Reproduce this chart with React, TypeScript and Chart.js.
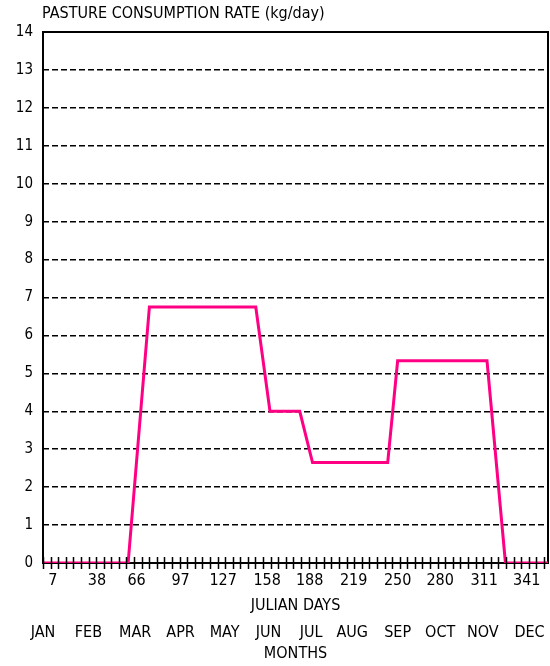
import React, { useEffect, useRef } from "react";
import { Chart, registerables } from "chart.js";

Chart.register(...registerables);

const CHART_TITLE = "PASTURE CONSUMPTION RATE (kg/day)";
const X_TITLE = "JULIAN DAYS";
const MONTH_TITLE = "MONTHS";

// Julian day / consumption rate (kg/day)
const days = [0, 60, 75, 150, 160, 181, 190, 243, 250, 313, 326, 356];
const rates = [0, 0, 6.75, 6.75, 4.0, 4.0, 2.65, 2.65, 5.33, 5.33, 0, 0];

const dayTickValues = [7, 38, 66, 97, 127, 158, 188, 219, 250, 280, 311, 341];
const monthLabels = ["JAN", "FEB", "MAR", "APR", "MAY", "JUN", "JUL", "AUG", "SEP", "OCT", "NOV", "DEC"];
const monthPositions = [0, 32, 65, 97, 128, 159, 189, 218, 250, 280, 310, 343];

const X_MIN = 0;
const X_MAX = 356;
const Y_MIN = 0;
const Y_MAX = 14;
const MINOR_TICK_STEP = 5.35;

const FONT = "'Liberation Sans Narrow', 'DejaVu Sans Condensed', 'Liberation Sans', sans-serif";

const framePlugin = {
  id: "frame",
  beforeDatasetsDraw(chart: any) {
    const { ctx, chartArea } = chart;
    ctx.save();
    ctx.strokeStyle = "#000";
    ctx.lineWidth = 2;
    ctx.strokeRect(chartArea.left, chartArea.top, chartArea.right - chartArea.left, chartArea.bottom - chartArea.top);
    ctx.restore();
  },
  afterDatasetsDraw(chart: any) {
    const { ctx, chartArea } = chart;
    const xs = chart.scales.x;
    ctx.save();
    ctx.strokeStyle = "#000";
    ctx.lineWidth = 1.5;
    ctx.beginPath();
    for (let v = X_MIN; v <= X_MAX + 0.01; v += MINOR_TICK_STEP) {
      const px = Math.round(xs.getPixelForValue(v)) + 0.5;
      ctx.moveTo(px, chartArea.bottom - 6);
      ctx.lineTo(px, chartArea.bottom + 6);
    }
    ctx.stroke();
    ctx.restore();
  },
  afterDraw(chart: any) {
    const { ctx, chartArea } = chart;
    ctx.save();
    ctx.fillStyle = "#000";
    ctx.font = `16px ${FONT}`;
    ctx.textAlign = "left";
    ctx.textBaseline = "middle";
    ctx.fillText(CHART_TITLE, chartArea.left - 1, 14);
    ctx.restore();
  },
};

export default function App() {
  const canvasRef = useRef<HTMLCanvasElement | null>(null);

  useEffect(() => {
    if (!canvasRef.current) return;
    const chart = new Chart(canvasRef.current, {
      type: "line",
      data: {
        datasets: [
          {
            data: days.map((d, i) => ({ x: d, y: rates[i] })),
            borderColor: "#ff0084",
            borderWidth: 3,
            pointRadius: 0,
            tension: 0,
            fill: false,
          },
        ],
      },
      options: {
        animation: false,
        responsive: true,
        maintainAspectRatio: false,
        layout: { padding: { top: 32, right: 2, bottom: 0, left: 0 } },
        plugins: {
          legend: { display: false },
          tooltip: { enabled: false },
          title: { display: false },
        },
        scales: {
          x: {
            type: "linear",
            position: "bottom",
            weight: 0,
            min: X_MIN,
            max: X_MAX,
            afterBuildTicks: (scale: any) => {
              scale.ticks = dayTickValues.map((v) => ({ value: v }));
            },
            afterFit: (scale: any) => {
              scale.height = 52;
            },
            grid: { display: false },
            border: { display: false },
            ticks: {
              autoSkip: false,
              maxRotation: 0,
              padding: 0,
              color: "#000",
              font: { family: FONT, size: 16 },
              callback: (v: any) => String(v),
            },
            title: {
              display: true,
              text: X_TITLE,
              color: "#000",
              font: { family: FONT, size: 16 },
              padding: { top: 0, bottom: 0 },
            },
          },
          xm: {
            type: "linear",
            position: "bottom",
            weight: 1,
            min: X_MIN,
            max: X_MAX,
            afterBuildTicks: (scale: any) => {
              scale.ticks = monthPositions.map((v) => ({ value: v }));
            },
            afterFit: (scale: any) => {
              scale.height = 51;
            },
            grid: { display: false },
            border: { display: false },
            ticks: {
              autoSkip: false,
              maxRotation: 0,
              padding: 0,
              color: "#000",
              font: { family: FONT, size: 16 },
              callback: (v: any) => {
                const i = monthPositions.indexOf(Number(v));
                return i >= 0 ? monthLabels[i] : "";
              },
            },
            title: {
              display: true,
              text: MONTH_TITLE,
              color: "#000",
              font: { family: FONT, size: 16 },
              padding: { top: 0, bottom: 3 },
            },
          },
          y: {
            type: "linear",
            min: Y_MIN,
            max: Y_MAX,
            afterFit: (scale: any) => {
              scale.width = 43;
            },
            grid: { color: "#000", lineWidth: 1.5, drawTicks: false },
            border: { display: false, dash: [6, 3] },
            ticks: {
              stepSize: 1,
              padding: 10,
              color: "#000",
              font: { family: FONT, size: 15 },
            },
          },
        },
      },
      plugins: [framePlugin],
    } as any);
    return () => chart.destroy();
  }, []);

  return (
    <div style={{ position: "fixed", left: 0, top: 0, width: 550, height: 666, background: "#fff" }}>
      <canvas ref={canvasRef} />
    </div>
  );
}
